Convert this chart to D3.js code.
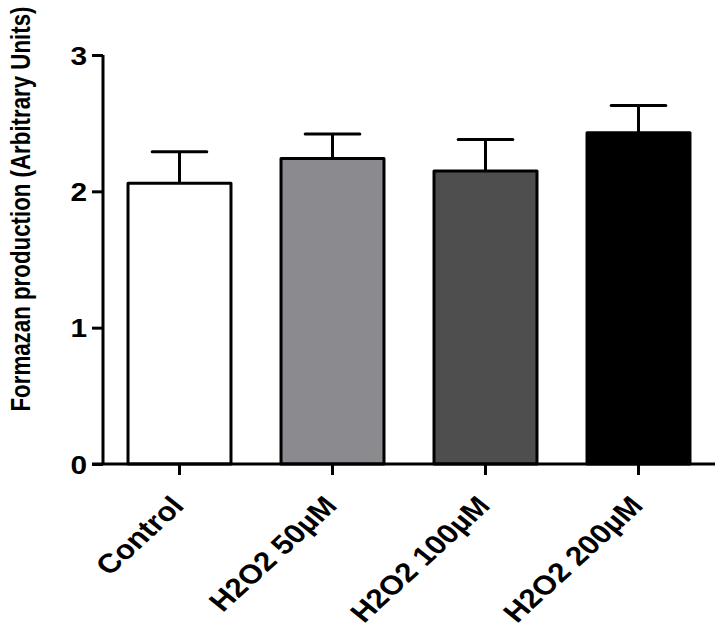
<!DOCTYPE html>
<html>
<head>
<meta charset="utf-8">
<script src="https://cdn.jsdelivr.net/npm/d3@7"></script>
<style>
  body { margin: 0; background: #fff; }
  svg text { font-family: "Liberation Sans", Arial, Helvetica, sans-serif; font-weight: bold; fill: #000; }
</style>
</head>
<body>
<svg id="chart" width="723" height="638"></svg>
<script>
const categories = ["Control", "H2O2 50µM", "H2O2 100µM", "H2O2 200µM"];
const means = [2.06, 2.24, 2.15, 2.43];
const errors = [0.23, 0.18, 0.23, 0.20];
const fills = ["#ffffff", "#8b8a8f", "#4e4e4e", "#000000"];
const yTicks = [0, 1, 2, 3];
const yTitle = "Formazan production (Arbitrary Units)";

const svg = d3.select("#chart");
const sx = 1.17; // horizontal stretch of the original image

const x = d3.scaleBand().domain(categories).range([103, 715])
  .paddingInner(0.327).paddingOuter(0.1635);
const y = d3.scaleLinear().domain([0, 3]).range([464, 55]);

const data = categories.map((c, i) => ({ c, m: means[i], e: errors[i], f: fills[i] }));

// error bars (upward only)
const capW = x.bandwidth() * 0.53;
const eb = svg.append("g").attr("stroke", "#000").attr("stroke-width", 3).attr("fill", "none");
eb.selectAll("line.v").data(data).join("line").attr("class", "v")
  .attr("x1", d => x(d.c) + x.bandwidth() / 2).attr("x2", d => x(d.c) + x.bandwidth() / 2)
  .attr("y1", d => y(d.m)).attr("y2", d => y(d.m + d.e));
eb.selectAll("line.cap").data(data).join("line").attr("class", "cap")
  .attr("stroke-linecap", "round")
  .attr("x1", d => x(d.c) + x.bandwidth() / 2 - capW / 2).attr("x2", d => x(d.c) + x.bandwidth() / 2 + capW / 2)
  .attr("y1", d => y(d.m + d.e)).attr("y2", d => y(d.m + d.e));

// bars
svg.append("g").selectAll("rect").data(data).join("rect")
  .attr("x", d => x(d.c)).attr("width", x.bandwidth())
  .attr("y", d => y(d.m)).attr("height", d => y(0) - y(d.m))
  .attr("fill", d => d.f).attr("stroke", "#000").attr("stroke-width", 3)
  .attr("stroke-linejoin", "round");

// y axis
const yAxis = svg.append("g").attr("transform", "translate(103,0)")
  .call(d3.axisLeft(y).tickValues(yTicks).tickFormat(d3.format("d")).tickSize(11).tickPadding(0));
yAxis.select(".domain").attr("stroke-width", 3).attr("d", `M0,${y(3)}V${y(0)}`);
yAxis.selectAll(".tick line").attr("stroke-width", 3);
yAxis.selectAll(".tick text").attr("font-size", 25.5).attr("x", 0).attr("dy", "0.36em")
  .attr("transform", `translate(-16,0) scale(${sx},1)`).attr("text-anchor", "end");

// x axis
const xAxis = svg.append("g").attr("transform", `translate(0,${y(0)})`)
  .call(d3.axisBottom(x).tickSize(11).tickSizeOuter(0).tickPadding(0));
xAxis.select(".domain").attr("stroke-width", 3).attr("d", `M92,0H715`);
xAxis.selectAll(".tick line").attr("stroke-width", 3);
xAxis.selectAll(".tick text").attr("font-size", 26.8).attr("y", 0).attr("dy", 0)
  .attr("text-anchor", "end")
  .attr("transform", `translate(6,43) scale(${sx},1) rotate(-47)`);

// y title
svg.append("text").attr("font-size", 22.3).attr("text-anchor", "middle")
  .attr("transform", `translate(30,209) scale(1.2,1) rotate(-90)`)
  .text(yTitle);
</script>
</body>
</html>
